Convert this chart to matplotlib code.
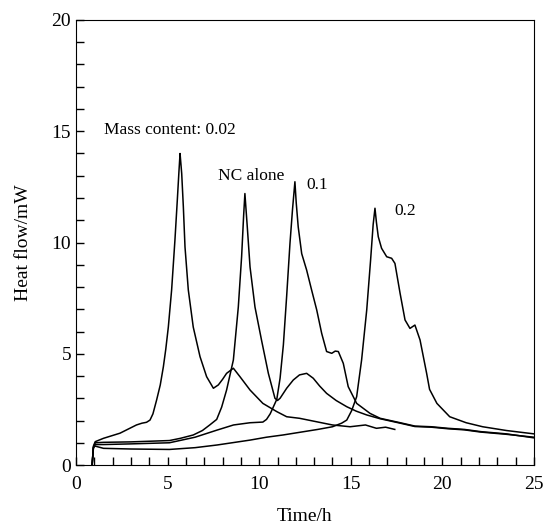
import matplotlib.pyplot as plt
from matplotlib.ticker import MultipleLocator

plt.rcParams['font.family'] = ['Liberation Serif', 'DejaVu Serif']

# Mass content 0.02
t_a = [0.88, 0.95, 1.05, 1.5, 2.4, 3.3, 3.6, 3.85, 4.04, 4.2, 4.4, 4.6, 4.77,
       4.9, 5.04, 5.22, 5.4, 5.53, 5.62, 5.68,
       5.72, 5.77, 5.86, 5.95, 6.13, 6.4, 6.77, 7.13, 7.5, 7.77, 8.0, 8.22,
       8.59, 8.95, 9.5, 10.2, 10.96, 11.5, 12.2, 13.1, 14.0, 14.96, 15.8,
       16.4, 16.9, 17.4]
y_a = [0.0, 0.85, 1.05, 1.2, 1.43, 1.8, 1.88, 1.92, 2.02, 2.3, 2.92, 3.6, 4.42,
       5.2, 6.2, 7.87, 10.1, 11.9, 13.2, 14.0,
       13.6, 13.1, 11.6, 9.8, 7.87, 6.2, 4.87, 3.97, 3.45, 3.6, 3.85, 4.12,
       4.35, 3.97, 3.37, 2.77, 2.4, 2.17, 2.1, 1.95, 1.8, 1.72, 1.8,
       1.65, 1.7, 1.6]

# NC alone
t_b = [0.88, 0.95, 1.05, 1.5, 3.0, 5.1, 5.7, 6.4, 6.9, 7.3, 7.68, 7.95,
       8.22, 8.59, 8.86, 9.04, 9.15, 9.22,
       9.28, 9.35, 9.5, 9.77, 10.13, 10.5, 10.86, 11.0, 11.14, 11.5, 11.86,
       12.2, 12.59, 12.95, 13.3, 13.68, 14.2, 14.78, 15.3, 15.87, 16.6, 17.7,
       18.5, 19.4, 20.3, 21.2, 22.1, 23.5, 25.0]
y_b = [0.0, 0.8, 1.0, 1.02, 1.04, 1.1, 1.2, 1.35, 1.55, 1.8, 2.05, 2.6,
       3.37, 4.72, 7.1, 9.36, 11.2, 12.2,
       11.5, 10.7, 8.9, 7.1, 5.6, 4.12, 3.0, 2.9, 3.0, 3.45, 3.82,
       4.05, 4.12, 3.9, 3.55, 3.22, 2.9, 2.62, 2.42, 2.25, 2.08, 1.88,
       1.73, 1.7, 1.63, 1.58, 1.48, 1.38, 1.25]

# Mass content 0.1
t_c = [0.88, 0.95, 1.05, 1.5, 3.0, 5.1, 6.5, 7.7, 8.6, 9.5, 10.2, 10.4,
       10.6, 10.96, 11.14, 11.32, 11.5, 11.68, 11.82, 11.95,
       12.02, 12.13, 12.32, 12.59, 12.86, 13.14, 13.41, 13.68, 13.96, 14.15,
       14.32, 14.59, 14.86, 15.32, 16.05, 16.6, 17.7, 18.5, 19.4, 20.3, 21.2,
       22.1, 23.5, 25.0]
y_c = [0.0, 0.75, 0.92, 0.92, 0.95, 1.0, 1.25, 1.57, 1.8, 1.9, 1.93, 2.05,
       2.3, 2.95, 3.9, 5.4, 7.6, 9.96, 11.5, 12.73,
       11.8, 10.7, 9.5, 8.76, 7.87, 6.97, 5.92, 5.1, 5.02, 5.12,
       5.1, 4.57, 3.52, 2.77, 2.32, 2.1, 1.9, 1.75, 1.72, 1.65, 1.6,
       1.5, 1.4, 1.22]

# Mass content 0.2
t_d = [0.88, 0.95, 1.05, 1.5, 3.0, 5.1, 6.5, 7.7, 9.5, 10.4, 11.3, 13.2,
       14.0, 14.5, 14.78, 15.05, 15.32, 15.59, 15.87, 16.08, 16.22, 16.32,
       16.4, 16.5, 16.68, 16.96, 17.23, 17.41, 17.69, 17.96, 18.23, 18.5,
       18.78, 19.14, 19.3, 19.7, 20.4, 21.3, 22.2, 23.5, 25.0]
y_d = [0.0, 0.8, 0.85, 0.75, 0.72, 0.7, 0.78, 0.9, 1.12, 1.25, 1.35, 1.6,
       1.72, 1.88, 2.02, 2.45, 3.07, 4.72, 6.97, 9.2, 10.8, 11.54,
       10.9, 10.26, 9.74, 9.36, 9.29, 9.06, 7.72, 6.52, 6.14, 6.29,
       5.62, 4.12, 3.4, 2.77, 2.17, 1.9, 1.72, 1.55, 1.4]

fig = plt.figure(figsize=(5.44, 5.30), dpi=100)
ax = fig.add_axes([0.1397, 0.1226, 0.8419, 0.8397])

for t, y in [(t_a, y_a), (t_b, y_b), (t_c, y_c), (t_d, y_d)]:
    ax.plot(t, y, color='black', lw=1.1)

ax.text(1.53, 15.06, 'Mass content: 0.02', fontsize=12.5, va='center')
ax.text(7.75, 13.0, 'NC alone', fontsize=12.5, va='center')
ax.text(12.6, 12.6, '0.1', fontsize=12.5, va='center')
ax.text(17.36, 11.4, '0.2', fontsize=12.5, va='center')

ax.set_xlim(0, 25)
ax.set_ylim(0, 20)
ax.xaxis.set_major_locator(MultipleLocator(5))
ax.xaxis.set_minor_locator(MultipleLocator(1))
ax.yaxis.set_major_locator(MultipleLocator(5))
ax.yaxis.set_minor_locator(MultipleLocator(1))
ax.tick_params(which='both', direction='in', top=False, right=False,
               labelsize=14, length=6, width=1)
ax.tick_params(axis='x', pad=8)
ax.set_xlabel('Time/h', fontsize=14, labelpad=11)
ax.set_ylabel('Heat flow/mW', fontsize=14, labelpad=14)

fig.savefig('out.png', dpi=100)
